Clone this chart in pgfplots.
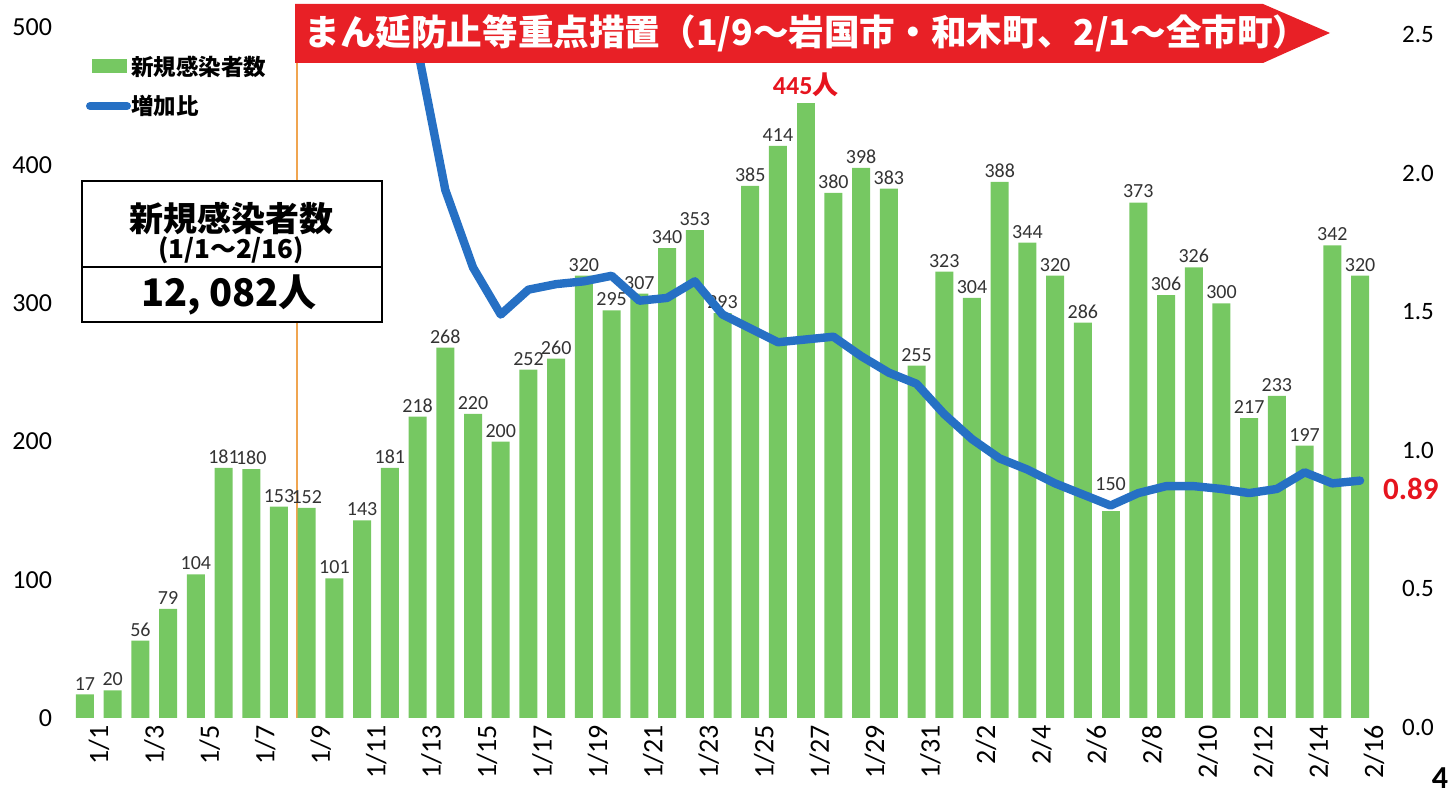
\documentclass[border=0pt]{standalone}
\usepackage{pgfplots}
\pgfplotsset{compat=1.18}
\usepackage{pgfplotstable}
\usepackage{fontspec}
\setmainfont{Carlito}
\newfontfamily\jp{Noto Sans CJK JP}
\definecolor{barg}{RGB}{118,200,98}
\definecolor{lineb}{RGB}{38,112,196}
\definecolor{bannerred}{RGB}{232,32,38}
\definecolor{vline}{RGB}{240,165,80}
\definecolor{lblred}{RGB}{230,20,30}

\pgfplotstableread{
x v
0 17
1 20
2 56
3 79
4 104
5 181
6 180
7 153
8 152
9 101
10 143
11 181
12 218
13 268
14 220
15 200
16 252
17 260
18 320
19 295
20 307
21 340
22 353
23 293
24 385
25 414
27 380
28 398
29 383
30 255
31 323
32 304
33 388
34 344
35 320
36 286
38 373
39 306
40 326
41 300
42 217
43 233
44 197
45 342
46 320
}\cases

\pgfplotstableread{
x v
37 150
}\low

\pgfplotstableread{
x v
26 445
}\peak

\pgfplotstableread{
x r
12 2.45
13 1.94
14 1.66
15 1.49
16 1.58
17 1.60
18 1.61
19 1.63
20 1.54
21 1.55
22 1.61
23 1.49
24 1.44
25 1.39
26 1.40
27 1.41
28 1.34
29 1.28
30 1.24
31 1.13
32 1.04
33 0.97
34 0.93
35 0.88
36 0.84
37 0.80
38 0.845
39 0.87
40 0.87
41 0.86
42 0.845
43 0.86
44 0.92
45 0.88
46 0.89
}\ratio

\begin{document}
\begin{tikzpicture}
\useasboundingbox (0,0) rectangle (728pt,397.5pt);

% vertical orange line
\begin{scope}[x=0.5pt,y=-0.5pt,shift={(0pt,397.5pt)}]
\draw[vline, line width=0.6pt] (297,62) -- (297,718);
\end{scope}

\begin{axis}[
  at={(30pt,38.5pt)}, anchor=south west, scale only axis,
  width=662.5pt, height=345.5pt,
  xmin=-0.9, xmax=46.9, ymin=0, ymax=500,
  axis line style={draw=none}, major tick length=0pt,
  xtick={0,2,...,46},
  xticklabels={1/1,1/3,1/5,1/7,1/9,1/11,1/13,1/15,1/17,1/19,1/21,1/23,1/25,1/27,1/29,1/31,2/2,2/4,2/6,2/8,2/10,2/12,2/14,2/16},
  xticklabel style={rotate=90, anchor=east, font=\fontsize{14}{14}\selectfont, yshift=-7pt},
  ytick={0,100,...,500},
  yticklabel style={font=\fontsize{13}{13}\selectfont, xshift=-0.5pt},
  /pgf/number format/assume math mode=true,
  clip=false,
]
\addplot[ybar, bar width=9pt, bar shift=0pt, fill=barg, draw=none,
  nodes near coords,
  every node near coord/.append style={font=\fontsize{10}{10}\selectfont, text=black!80, inner sep=2pt}]
  table[x=x,y=v]{\cases};
\addplot[ybar, bar width=9pt, bar shift=0pt, fill=barg, draw=none,
  nodes near coords,
  every node near coord/.append style={font=\fontsize{10}{10}\selectfont, text=black!80, inner sep=2pt, yshift=8pt}]
  table[x=x,y=v]{\low};
\addplot[ybar, bar width=9pt, bar shift=0pt, fill=barg, draw=none,
  nodes near coords={\bfseries 445{\jp\bfseries 人}},
  every node near coord/.append style={font=\fontsize{13}{13}\selectfont, text=lblred, inner sep=2pt, yshift=1pt}]
  table[x=x,y=v]{\peak};
\end{axis}

\begin{axis}[
  at={(30pt,34pt)}, anchor=south west, scale only axis,
  width=662.5pt, height=346pt,
  xmin=-0.9, xmax=46.9, ymin=0, ymax=2.5,
  axis line style={draw=none}, major tick length=0pt,
  xtick=\empty,
  ytick={0,0.5,1.0,1.5,2.0,2.5},
  yticklabel pos=right,
  yticklabel style={/pgf/number format/.cd, fixed, fixed zerofill, precision=1, /tikz/.cd, font=\fontsize{12.5}{12.5}\selectfont, xshift=5pt},
  /pgf/number format/assume math mode=true,
  clip mode=individual,
]
\addplot[lineb, line width=4.2pt, line join=round, line cap=round] table[x=x,y=r]{\ratio};
\node[anchor=west, text=lblred, font=\bfseries\fontsize{15.5}{15.5}\selectfont, xshift=8pt, yshift=-4pt] at (axis cs:46,0.89) {0.89};
\end{axis}

\begin{scope}[x=0.5pt,y=-0.5pt,shift={(0pt,397.5pt)}]
% banner
\fill[bannerred] (295,4) -- (1263,4) -- (1330,33) -- (1263,63) -- (295,63) -- cycle;
\node[anchor=west, text=white, font=\jp\bfseries\fontsize{17.8}{17.8}\selectfont, inner sep=0pt] at (304,33) {まん延防止等重点措置（1/9～岩国市・和木町、2/1～全市町）};
% legend
\fill[barg] (92,59) rectangle (127,73);
\node[anchor=west, font=\jp\bfseries\fontsize{11.25}{11.25}\selectfont, inner sep=0pt] at (131,67) {新規感染者数};
\draw[lineb, line width=4pt, line cap=round] (90,106) -- (127,106);
\node[anchor=west, font=\jp\bfseries\fontsize{11.25}{11.25}\selectfont, inner sep=0pt] at (131,106) {増加比};
% box
\fill[white] (82,181) rectangle (382,322);
\draw[line width=1.1pt] (82,181) rectangle (382,322);
\draw[line width=1.1pt] (82,267) -- (382,267);
\node[font=\jp\bfseries\fontsize{17}{17}\selectfont] at (231,218) {新規感染者数};
\node[font=\jp\bfseries\fontsize{13}{13}\selectfont] at (231,250) {(1/1～2/16)};
\node[font=\jp\bfseries\fontsize{19}{19}\selectfont] at (229,295) {12, 082人};
% page number
\node[font=\bfseries\fontsize{16}{16}\selectfont] at (1440,778) {4};
\end{scope}
\end{tikzpicture}
\end{document}
